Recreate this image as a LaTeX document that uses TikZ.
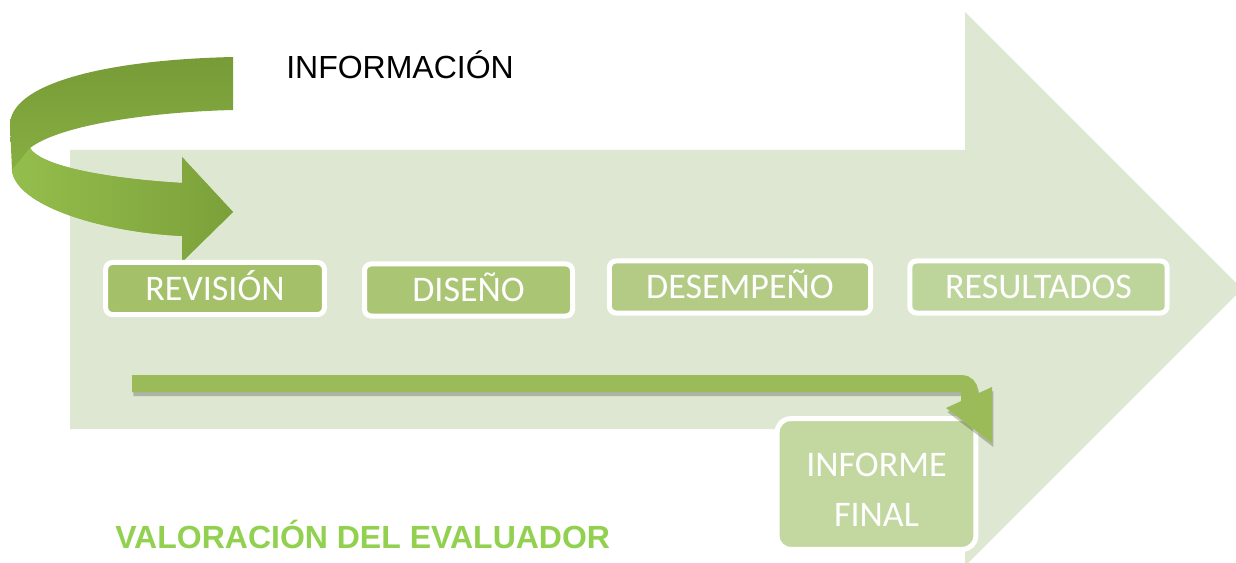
\documentclass[tikz,border=0pt]{standalone}
\usepackage{fontspec}
\setmainfont{Liberation Sans}
\newfontfamily\boxfont{Carlito}
\definecolor{bgarrow}{HTML}{DEE7D1}
\definecolor{curvedark}{HTML}{779B37}
\definecolor{curvelight}{HTML}{94BE4C}
\definecolor{flowgreen}{HTML}{9BBB59}
\definecolor{titlegreen}{HTML}{92D050}
\definecolor{stageA}{HTML}{A4C16A}
\definecolor{stageB}{HTML}{AAC674}
\definecolor{stageC}{HTML}{B3CB84}
\definecolor{stageD}{HTML}{BDD49B}
\definecolor{informefill}{HTML}{C3D8A0}
\tikzset{
  stagebox/.style={draw=white, line width=3.75pt, rounded corners=5pt, text=white, inner sep=0pt,
    minimum height=39pt, text height=17.5pt, text depth=0pt, font=\boxfont\fontsize{27}{32}\selectfont},
  plaintext/.style={anchor=base west, inner sep=0pt, font=\fontsize{24}{28}\selectfont}
}
\begin{document}
\begin{tikzpicture}[x=0.75pt, y=-0.75pt]
    \useasboundingbox (0,0) rectangle (1236,563);
    \fill[bgarrow] (70,150) -- (965,150) -- (965,12) -- (1242,289) -- (965,566) -- (965,429) -- (70,429) -- cycle; % big arrow
    \shade[top color=curvedark, bottom color=curvelight]
        (233,57) .. controls (100,60) and (10,85) .. (10,125) -- (12,170)
        .. controls (15,205) and (100,232) .. (182,236) -- (182,262) -- (233,212) -- (182,157) -- (182,183)
        .. controls (100,178) and (40,165) .. (30,148)
        .. controls (60,125) and (150,112) .. (233,110) -- cycle; % curved arrow
    \shade[left color=curvelight, right color=curvedark!85!curvelight]
        (30,148) .. controls (40,165) and (100,178) .. (182,183) -- (182,157) -- (233,212) -- (182,262) -- (182,236)
        .. controls (100,232) and (15,205) .. (12,170) -- cycle; % lower arm
    \foreach \nm/\cx/\cy/\w/\col/\txt in {revision/215/288.5/164/stageA/REVISIÓN, diseno/468.5/290/156/stageB/DISEÑO,
        desempeno/740/287/196/stageC/DESEMPEÑO, resultados/1038.5/287/193/stageD/RESULTADOS}
        \node[stagebox, fill=\col, minimum width=\w pt] (\nm) at (\cx,\cy) {\txt};
    \node[stagebox, fill=informefill, minimum width=149pt, minimum height=98pt, rounded corners=10pt] (informe) at (876.5,484) {};
    \node[align=center, text=white, inner sep=0pt, font=\boxfont\fontsize{27}{37.5}\selectfont] (informetext) at (876.5,490) {INFORME\\FINAL};
    \coordinate (flowstart) at (132,383.5);
    \coordinate (flowturn) at (969.5,402);
    \begin{scope}[transform canvas={xshift=1pt, yshift=-3pt}, black, opacity=.22] % shadow
        \draw[line width=12.75pt, rounded corners=6pt] (flowstart) -| (flowturn);
        \fill (946,408) -- (992,387) -- (992,443) -- cycle;
    \end{scope}
    \draw[flowgreen, line width=12.75pt, rounded corners=6pt] (flowstart) -| (flowturn);
    \fill[flowgreen] (946,408) -- (992,387) -- (992,443) -- cycle; % head
    \node[plaintext] (informacion) at (286,79) {INFORMACIÓN};
    \node[plaintext, text=titlegreen, font=\bfseries\fontsize{24}{28}\selectfont] (valoracion) at (115,548) {VALORACIÓN DEL EVALUADOR};
\end{tikzpicture}
\end{document}
